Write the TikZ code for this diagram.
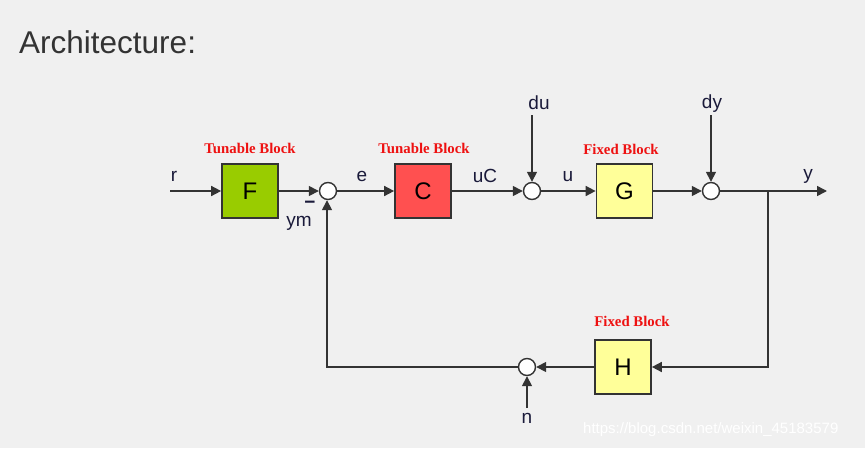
\documentclass[tikz,border=0pt]{standalone}
\usepackage{fontspec}
\setmainfont{Liberation Sans}
\newfontfamily\serifbold{Liberation Serif}
\usetikzlibrary{arrows.meta}
\definecolor{bg}{HTML}{F0F0F0}
\definecolor{ln}{HTML}{333333}
\definecolor{fgreen}{HTML}{99CC00}
\definecolor{cred}{HTML}{FF5050}
\definecolor{fyel}{HTML}{FFFF99}
\definecolor{lblred}{HTML}{EE1111}
\definecolor{sig}{HTML}{1A1A3A}
\begin{document}
\begin{tikzpicture}[x=1pt,y=-1pt,
  blk/.style={draw=ln,line width=1.7pt,minimum width=56pt,minimum height=54pt,inner sep=0pt,font=\fontsize{24}{26}\selectfont},
  sumc/.style={draw=ln,fill=white,circle,line width=1.4pt,minimum size=17pt,inner sep=0pt},
  wire/.style={draw=ln,line width=1.6pt},
  arr/.style={wire,-{Triangle[length=10pt,width=10pt]}},
  sg/.style={font=\fontsize{19}{21}\selectfont,text=sig,inner sep=0pt},
  tag/.style={font=\serifbold\bfseries\fontsize{14.8}{16}\selectfont,text=lblred,inner sep=0pt}]
\fill[bg] (0,0) rectangle (865,448);
\useasboundingbox (0,0) rectangle (865,448);
\node[anchor=base west,inner sep=0pt,font=\fontsize{31.5}{34}\selectfont,text=ln] (title) at (19,53) {Architecture:};

\node[blk,fill=fgreen] (F) at (250,191) {F};
\node[blk,fill=cred] (C) at (423,191) {C};
\node[blk,fill=fyel] (G) at (624.5,191) {G};
\node[blk,fill=fyel] (H) at (623,367) {H};

\node[sumc] (s1) at (328,191) {};
\node[sumc] (s2) at (532,191) {};
\node[sumc] (s3) at (711,191) {};
\node[sumc] (s4) at (527,367) {};

\node[tag] (tF) at (250,148) {Tunable Block};
\node[tag] (tC) at (424,148) {Tunable Block};
\node[tag] (tG) at (621,149) {Fixed Block};
\node[tag] (tH) at (632,321) {Fixed Block};

\coordinate (rin) at (170,191);
\coordinate (duin) at (532,115);
\coordinate (dyin) at (711,115);
\coordinate (yout) at (827,191);
\coordinate (br) at (768,191);
\coordinate (brd) at (768,367);
\coordinate (nin) at (527,408);
\coordinate (fbk) at (327,367);

\draw[arr] (rin) -- (F.west);
\draw[arr] (F.east) -- (s1.west);
\draw[arr] (s1.east) -- (C.west);
\draw[arr] (C.east) -- (s2.west);
\draw[arr] (duin) -- (s2.north);
\draw[arr] (s2.east) -- (G.west);
\draw[arr] (G.east) -- (s3.west);
\draw[arr] (dyin) -- (s3.north);
\draw[arr] (s3.east) -- (yout);
\draw[arr] (br) -- (brd) -- (H.east);
\draw[arr] (H.west) -- (s4.east);
\draw[arr] (nin) -- (s4.south);
\draw[arr] (s4.west) -- (fbk) -- (fbk |- s1.south);

\node[sg] (lr) at (174,176) {r};
\node[sg] (le) at (362,176) {e};
\node[sg] (luC) at (485,176) {uC};
\node[sg] (lu) at (568,177) {u};
\node[sg] (ldu) at (539,103) {du};
\node[sg] (ldy) at (712,104) {dy};
\node[sg] (ly) at (808,176) {y};
\node[sg] (lym) at (299,223) {ym};
\node[sg] (lmin) at (310,205) {\textbf{\char"2212}};
\node[sg] (ln) at (527,418) {n};

\node[anchor=base west,inner sep=0pt,font=\fontsize{15}{17}\selectfont,text=white] (wm) at (583,433) {https://blog.csdn.net/weixin\_45183579};
\end{tikzpicture}
\end{document}
